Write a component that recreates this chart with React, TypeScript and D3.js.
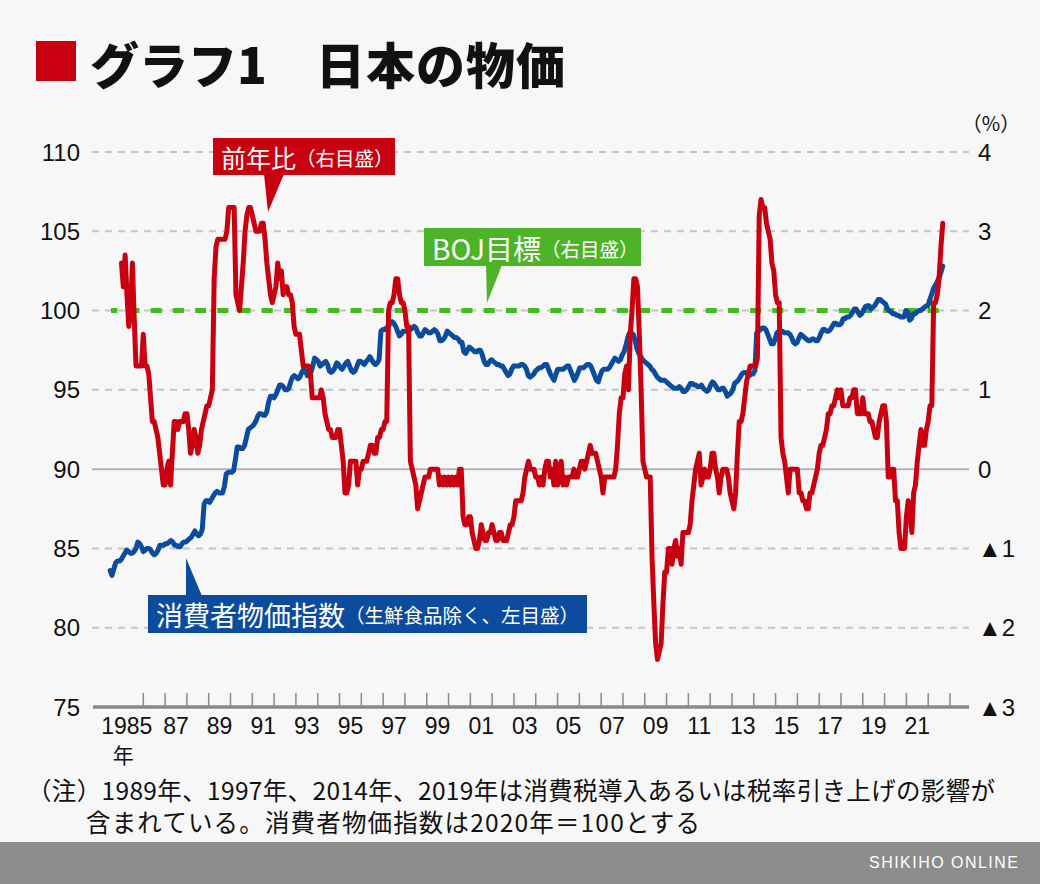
import React from "react";
import * as d3 from "d3";

// ---------------- data ----------------
const START_YEAR = 1985;

// Core CPI (ex fresh food) year-on-year change, %, monthly (right axis)
const yoyByYear: number[][] = [
  [2.6, 2.3, 2.7, 2.2, 1.8, 2.0, 2.6, 1.9, 1.3, 1.3, 1.3, 1.3], // 1985
  [1.7, 1.3, 1.3, 1.2, 0.9, 0.6, 0.6, 0.5, 0.4, 0.2, 0.0, -0.2], // 1986
  [-0.2, 0.0, 0.1, -0.2, 0.2, 0.6, 0.6, 0.5, 0.6, 0.6, 0.6, 0.7], // 1987
  [0.7, 0.5, 0.2, 0.3, 0.5, 0.4, 0.2, 0.3, 0.5, 0.6, 0.7, 0.8], // 1988
  [0.8, 0.9, 1.0, 2.4, 2.8, 2.9, 2.9, 2.9, 2.9, 2.9, 3.0, 3.3], // 1989
  [3.3, 3.3, 3.3, 2.2, 2.1, 2.0, 2.3, 2.6, 3.0, 3.2, 3.3, 3.3], // 1990
  [3.2, 3.1, 3.0, 3.0, 3.0, 3.1, 3.1, 2.9, 2.6, 2.4, 2.2, 2.1], // 1991
  [2.2, 2.3, 2.6, 2.4, 2.5, 2.2, 2.3, 2.3, 2.2, 2.2, 2.1, 1.8], // 1992
  [1.7, 1.7, 1.7, 1.5, 1.3, 1.3, 1.3, 1.3, 1.2, 0.9, 0.9, 0.9], // 1993
  [0.9, 0.9, 1.0, 0.9, 0.7, 0.6, 0.5, 0.5, 0.4, 0.4, 0.4, 0.5], // 1994
  [0.5, 0.3, 0.1, -0.3, -0.3, -0.2, 0.1, 0.1, 0.1, 0.1, -0.2, 0.0], // 1995
  [0.0, 0.1, 0.1, 0.1, 0.2, 0.3, 0.3, 0.2, 0.2, 0.4, 0.4, 0.5], // 1996
  [0.5, 0.6, 0.6, 2.0, 2.1, 2.1, 2.2, 2.4, 2.4, 2.2, 2.1, 2.1], // 1997
  [2.0, 1.8, 1.8, 0.1, 0.0, -0.1, -0.2, -0.5, -0.4, -0.3, -0.2, -0.1], // 1998
  [-0.1, -0.1, 0.0, 0.0, 0.0, 0.0, 0.0, -0.2, -0.1, -0.2, -0.1, -0.2], // 1999
  [-0.1, -0.2, -0.1, -0.2, -0.1, -0.2, 0.0, 0.0, -0.6, -0.7, -0.7, -0.6], // 2000
  [-0.6, -0.8, -0.9, -1.0, -1.0, -0.9, -0.7, -0.8, -0.9, -0.9, -0.8, -0.8], // 2001
  [-0.7, -0.8, -0.9, -0.9, -0.8, -0.8, -0.9, -0.9, -0.9, -0.8, -0.7, -0.7], // 2002
  [-0.6, -0.4, -0.4, -0.4, -0.4, -0.3, -0.1, 0.0, 0.1, 0.0, 0.0, 0.0], // 2003
  [-0.1, -0.1, -0.2, -0.1, -0.2, 0.0, 0.1, 0.1, -0.1, 0.0, -0.2, 0.1], // 2004
  [-0.2, -0.1, 0.1, -0.2, -0.1, -0.2, -0.1, -0.1, -0.1, 0.0, -0.1, -0.1], // 2005
  [0.0, 0.1, 0.1, 0.0, 0.1, 0.2, 0.3, 0.2, 0.2, 0.2, 0.1, 0.0], // 2006
  [-0.1, -0.3, -0.1, -0.1, -0.1, -0.1, -0.1, -0.1, 0.0, 0.3, 0.7, 0.9], // 2007
  [0.9, 1.2, 1.3, 1.0, 1.7, 2.0, 2.4, 2.4, 2.3, 1.7, 1.0, 0.1], // 2008
  [0.0, -0.1, -0.1, -0.1, -1.1, -1.7, -2.2, -2.4, -2.3, -2.2, -1.7, -1.3], // 2009
  [-1.3, -1.0, -1.0, -1.2, -1.0, -0.9, -1.1, -1.0, -1.2, -0.8, -0.8, -0.8], // 2010
  [-0.8, -0.7, -0.4, -0.2, 0.0, 0.1, 0.2, -0.2, -0.1, 0.0, -0.1, -0.1], // 2011
  [0.0, 0.2, 0.2, 0.0, -0.1, -0.3, -0.1, 0.0, 0.0, 0.0, -0.1, -0.3], // 2012
  [-0.4, -0.5, -0.3, 0.2, 0.6, 0.6, 0.7, 0.9, 1.1, 1.2, 1.3, 1.3], // 2013
  [1.3, 1.3, 1.4, 3.2, 3.4, 3.3, 3.3, 3.1, 3.0, 2.9, 2.6, 2.5], // 2014
  [2.2, 2.1, 2.1, 0.4, 0.2, 0.1, -0.1, -0.3, 0.0, 0.0, 0.0, 0.0], // 2015
  [0.0, -0.3, -0.3, -0.4, -0.4, -0.5, -0.5, -0.3, -0.3, -0.2, -0.1, 0.0], // 2016
  [0.2, 0.3, 0.3, 0.4, 0.5, 0.7, 0.7, 0.8, 0.8, 0.9, 1.0, 0.9], // 2017
  [1.0, 0.8, 0.8, 0.8, 0.8, 0.9, 0.9, 1.0, 1.0, 0.7, 0.7, 0.7], // 2018
  [0.9, 0.7, 0.7, 0.7, 0.6, 0.6, 0.5, 0.4, 0.4, 0.6, 0.7, 0.8], // 2019
  [0.8, 0.6, -0.1, -0.1, 0.0, 0.0, -0.4, -0.4, -0.8, -1.0, -1.0, -1.0], // 2020
  [-0.6, -0.4, -0.5, -0.8, -0.3, -0.2, 0.1, 0.3, 0.5, 0.3, 0.3, 0.5], // 2021
  [0.6, 0.8, 0.8, 2.1, 2.1, 2.2, 2.4, 2.8, 3.1], // 2022
];

// Core CPI index (2020 = 100), monthly (left axis)
const cpiByYear: number[][] = [
  [83.6, 83.3, 83.7, 84.1, 84.2, 84.2, 84.3, 84.5, 84.7, 84.9, 84.8, 84.7], // 1985
  [84.7, 84.8, 85.0, 85.4, 85.3, 85.1, 84.8, 84.9, 85.0, 85.0, 84.9, 84.7], // 1986
  [84.6, 84.7, 84.9, 85.2, 85.2, 85.2, 85.3, 85.3, 85.4, 85.5, 85.4, 85.2], // 1987
  [85.2, 85.1, 85.1, 85.3, 85.4, 85.4, 85.5, 85.6, 85.7, 85.9, 86.1, 85.9], // 1988
  [85.8, 85.9, 86.2, 87.8, 88.0, 88.0, 87.9, 88.1, 88.3, 88.5, 88.6, 88.5], // 1989
  [88.5, 88.5, 88.9, 89.7, 89.8, 89.8, 89.8, 89.9, 90.6, 91.4, 91.4, 91.3], // 1990
  [91.3, 91.5, 92.0, 92.5, 92.6, 92.7, 92.8, 93.0, 93.3, 93.5, 93.5, 93.4], // 1991
  [93.4, 93.6, 94.2, 94.6, 94.6, 94.5, 94.7, 95.0, 95.3, 95.3, 95.2, 95.0], // 1992
  [95.0, 95.1, 95.5, 95.8, 95.9, 95.8, 95.7, 95.8, 96.1, 96.3, 96.2, 95.9], // 1993
  [96.0, 96.1, 96.5, 97.0, 96.9, 96.8, 96.5, 96.6, 96.7, 96.8, 96.6, 96.2], // 1994
  [96.1, 96.2, 96.4, 96.7, 96.6, 96.4, 96.3, 96.5, 96.7, 96.8, 96.5, 96.2], // 1995
  [96.1, 96.2, 96.5, 96.8, 96.8, 96.7, 96.6, 96.8, 96.9, 97.1, 96.9, 96.7], // 1996
  [96.6, 96.7, 96.9, 98.7, 98.8, 98.8, 98.9, 99.0, 99.2, 99.3, 99.2, 99.0], // 1997
  [98.7, 98.4, 98.5, 98.7, 98.7, 98.7, 98.7, 98.8, 98.9, 99.0, 98.9, 98.6], // 1998
  [98.4, 98.4, 98.6, 98.8, 98.7, 98.6, 98.6, 98.7, 98.8, 98.7, 98.5, 98.1], // 1999
  [98.1, 98.2, 98.4, 98.7, 98.6, 98.5, 98.4, 98.3, 98.3, 98.2, 98.0, 98.0], // 2000
  [97.4, 97.3, 97.5, 97.7, 97.6, 97.5, 97.4, 97.4, 97.5, 97.5, 97.2, 96.8], // 2001
  [96.6, 96.6, 96.8, 96.9, 96.8, 96.7, 96.6, 96.6, 96.5, 96.5, 96.3, 96.1], // 2002
  [95.9, 96.0, 96.3, 96.5, 96.5, 96.5, 96.5, 96.6, 96.6, 96.5, 96.3, 95.9], // 2003
  [95.8, 95.9, 96.0, 96.2, 96.3, 96.4, 96.4, 96.5, 96.6, 96.6, 96.3, 96.0], // 2004
  [95.8, 95.6, 96.0, 96.3, 96.3, 96.3, 96.3, 96.4, 96.5, 96.5, 96.2, 95.9], // 2005
  [95.6, 95.8, 96.1, 96.4, 96.4, 96.4, 96.5, 96.6, 96.6, 96.5, 96.2, 95.9], // 2006
  [95.6, 95.5, 95.9, 96.2, 96.3, 96.3, 96.3, 96.4, 96.6, 96.8, 97.0, 96.9], // 2007
  [96.8, 96.9, 97.2, 97.4, 97.8, 98.3, 98.6, 98.6, 98.5, 98.1, 97.6, 97.3], // 2008
  [97.1, 96.9, 96.8, 96.7, 96.6, 96.5, 96.3, 96.2, 96.0, 95.8, 95.7, 95.6], // 2009
  [95.6, 95.6, 95.5, 95.4, 95.3, 95.2, 95.1, 95.1, 95.1, 95.2, 95.1, 94.9], // 2010
  [94.9, 95.0, 95.2, 95.4, 95.4, 95.3, 95.3, 95.2, 95.2, 95.3, 95.1, 95.0], // 2011
  [94.9, 95.0, 95.3, 95.5, 95.4, 95.2, 95.0, 95.0, 95.1, 95.1, 94.9, 94.6], // 2012
  [94.7, 94.8, 95.0, 95.4, 95.5, 95.6, 95.8, 96.0, 96.1, 96.1, 96.0, 95.9], // 2013
  [96.0, 96.0, 96.2, 98.6, 98.7, 98.8, 98.9, 98.9, 98.8, 98.5, 98.2, 97.9], // 2014
  [97.9, 98.2, 98.6, 98.7, 98.7, 98.7, 98.6, 98.6, 98.6, 98.5, 98.3, 98.0], // 2015
  [97.9, 98.0, 98.3, 98.5, 98.4, 98.3, 98.2, 98.1, 98.1, 98.2, 98.2, 98.1], // 2016
  [98.1, 98.3, 98.6, 98.8, 98.8, 98.7, 98.7, 98.8, 99.0, 99.2, 99.2, 99.1], // 2017
  [99.1, 99.2, 99.5, 99.5, 99.6, 99.6, 99.7, 99.9, 100.1, 100.1, 99.9, 99.7], // 2018
  [99.8, 100.0, 100.25, 100.3, 100.3, 100.1, 100.2, 100.3, 100.5, 100.7, 100.7, 100.6], // 2019
  [100.5, 100.4, 100.1, 100.0, 99.9, 99.8, 99.8, 99.7, 99.7, 99.6, 99.6, 99.6], // 2020
  [100.0, 99.9, 99.4, 99.5, 99.8, 99.8, 99.9, 100.0, 100.0, 100.1, 100.2, 100.3], // 2021
  [100.3, 100.7, 101.0, 101.4, 101.6, 101.8, 102.1, 102.4, 102.8], // 2022
];

const leftTicks = [75, 80, 85, 90, 95, 100, 105, 110];
const rightTicks = [-3, -2, -1, 0, 1, 2, 3, 4];
const rightTickLabels = ["▲3", "▲2", "▲1", "0", "1", "2", "3", "4"];
const tickYears = d3.range(1986, 2024);
const labelYears = d3.range(1985, 2022, 2);
const yearLabel = (y: number) => (y === 1985 ? "1985" : String(y % 100).padStart(2, "0"));
const bojTarget = 2;

const titleText1 = "グラフ1";
const titleText2 = "日本の物価";
const note1 = "（注）1989年、1997年、2014年、2019年は消費税導入あるいは税率引き上げの影響が";
const note2 = "含まれている。消費者物価指数は2020年＝100とする";

// ---------------- style ----------------
const RED = "#c8000f";
const BLUE = "#0b4c9f";
const GREEN_LINE = "#43bb1c";
const GREEN_BOX = "#4db427";
const BG = "#f7f7f7";
const JP = "'Noto Sans CJK JP', sans-serif";
const NUM = "'Liberation Sans', Arial, sans-serif";

type P = { t: number; v: number };

export default function App() {
  const W = 1040;
  const H = 884;
  const plotLeft = 92;
  const plotRight = 969;

  const x = d3.scaleLinear().domain([1986, 2023]).range([143.3, 950]);
  const yL = d3.scaleLinear().domain([75, 110]).range([707, 152]);
  const yR = d3.scaleLinear().domain([-3, 4]).range([707, 152]);

  const yoy: P[] = yoyByYear.flatMap((row, i) =>
    row.map((v, m) => ({ t: START_YEAR + i + m / 12, v }))
  );
  const cpi: P[] = cpiByYear.flatMap((row, i) =>
    row.map((v, m) => ({ t: START_YEAR + i + m / 12, v }))
  );
  const tEnd = yoy[yoy.length - 1].t;
  const xBlue = d3
    .scaleLinear()
    .domain([START_YEAR, tEnd])
    .range([x(1984.48), x(tEnd)]);

  const redPath = d3
    .line<P>()
    .x((d) => x(d.t))
    .y((d) => yR(d.v))(yoy) as string;
  const bluePath = d3
    .line<P>()
    .x((d) => xBlue(d.t))
    .y((d) => yL(d.v))(cpi) as string;

  const yTarget = yR(bojTarget);

  return (
    <svg
      width={W}
      height={H}
      viewBox={`0 0 ${W} ${H}`}
      style={{ position: "absolute", left: 0, top: 0, display: "block" }}
    >
      <rect x={0} y={0} width={W} height={H} fill={BG} />

      {/* title */}
      <rect x={36} y={41} width={40} height={40} fill={RED} />
      <text x={90} y={62} dominantBaseline="central" fontFamily={JP} fontWeight={900} fontSize={49} fill="#111">
        {titleText1}
      </text>
      <text x={316} y={62} dominantBaseline="central" fontFamily={JP} fontWeight={900} fontSize={49} fill="#111" letterSpacing={1}>
        {titleText2}
      </text>

      {/* gridlines */}
      {leftTicks
        .filter((v) => v !== 75)
        .map((v) => (
          <line
            key={"g" + v}
            x1={plotLeft}
            x2={plotRight}
            y1={yL(v)}
            y2={yL(v)}
            stroke={v === 90 ? "#b4b4b4" : "#c4c4c4"}
            strokeWidth={2}
            strokeDasharray={v === 90 ? undefined : "7 6"}
          />
        ))}

      {/* x axis */}
      <line x1={plotLeft + 1} x2={plotRight} y1={yL(75)} y2={yL(75)} stroke="#8a8a8a" strokeWidth={3.5} />
      {tickYears.map((yr) => (
        <line key={"t" + yr} x1={x(yr)} x2={x(yr)} y1={yL(75)} y2={yL(75) - 14} stroke="#8a8a8a" strokeWidth={1.5} />
      ))}
      {labelYears.map((yr) => (
        <text
          key={"l" + yr}
          x={yr === 1985 ? x(yr + 1) + 9 : x(yr + 0.5)}
          y={734}
          textAnchor={yr === 1985 ? "end" : "middle"}
          fontFamily={NUM}
          fontSize={23}
          fill="#111"
        >
          {yearLabel(yr)}
        </text>
      ))}
      <text x={x(1986) - 20} y={754} textAnchor="middle" dominantBaseline="central" fontFamily={JP} fontSize={21} fill="#111">
        年
      </text>

      {/* left axis labels */}
      {leftTicks.map((v) => (
        <text key={"yl" + v} x={80} y={yL(v)} textAnchor="end" dominantBaseline="central" fontFamily={NUM} fontSize={24} fill="#111">
          {v}
        </text>
      ))}
      {/* right axis labels */}
      {rightTicks.map((v, i) => (
        <text key={"yr" + v} x={978} y={yR(v)} textAnchor="start" dominantBaseline="central" fontFamily={NUM} fontSize={24} fill="#111">
          {rightTickLabels[i]}
        </text>
      ))}
      <text x={991} y={122} textAnchor="middle" dominantBaseline="central" fontFamily={JP} fontSize={20} fill="#111">
        （%）
      </text>

      {/* BOJ target line */}
      <line
        x1={111}
        x2={940}
        y1={yTarget}
        y2={yTarget}
        stroke={GREEN_LINE}
        strokeWidth={5}
        strokeDasharray="11 11.2"
        strokeDashoffset={4.7}
      />

      {/* series */}
      <path d={bluePath} fill="none" stroke={BLUE} strokeWidth={5} strokeLinejoin="round" strokeLinecap="round" />
      <path d={redPath} fill="none" stroke={RED} strokeWidth={5} strokeLinejoin="round" strokeLinecap="round" />

      {/* red label */}
      <rect x={213} y={138} width={182} height={37} fill={RED} />
      <polygon points="264,174 284,174 268,212" fill={RED} />
      <text x={221} y={157} dominantBaseline="central" fontFamily={JP} fill="#fff">
        <tspan fontSize={25}>前年比</tspan>
        <tspan fontSize={19.5}>（右目盛）</tspan>
      </text>

      {/* green label */}
      <rect x={424} y={228} width={217} height={38} fill={GREEN_BOX} />
      <polygon points="486,265 502,265 487,303" fill={GREEN_BOX} />
      <text x={432} y={248} dominantBaseline="central" fontFamily={JP} fill="#fff">
        <tspan fontSize={28}>BOJ目標</tspan>
        <tspan fontSize={19.5}>（右目盛）</tspan>
      </text>

      {/* blue label */}
      <rect x={148} y={595} width={439} height={38} fill={BLUE} />
      <polygon points="186,558 186,596 202,596" fill={BLUE} />
      <text x={156} y={614} dominantBaseline="central" fontFamily={JP} fill="#fff">
        <tspan fontSize={27}>消費者物価指数</tspan>
        <tspan fontSize={19.5}>（生鮮食品除く、左目盛）</tspan>
      </text>

      {/* footnote */}
      <text x={27} y={789} dominantBaseline="central" fontFamily={JP} fontSize={24.5} fill="#111" textLength={968}>
        {note1}
      </text>
      <text x={86} y={821} dominantBaseline="central" fontFamily={JP} fontSize={24.5} fill="#111" textLength={614}>
        {note2}
      </text>

      {/* footer band */}
      <rect x={0} y={842} width={W} height={H - 842} fill="#8c8c8c" />
      <text x={1018} y={862} textAnchor="end" dominantBaseline="central" fontFamily={NUM} fontSize={16} fill="#fff" textLength={149}>
        SHIKIHO ONLINE
      </text>
    </svg>
  );
}
